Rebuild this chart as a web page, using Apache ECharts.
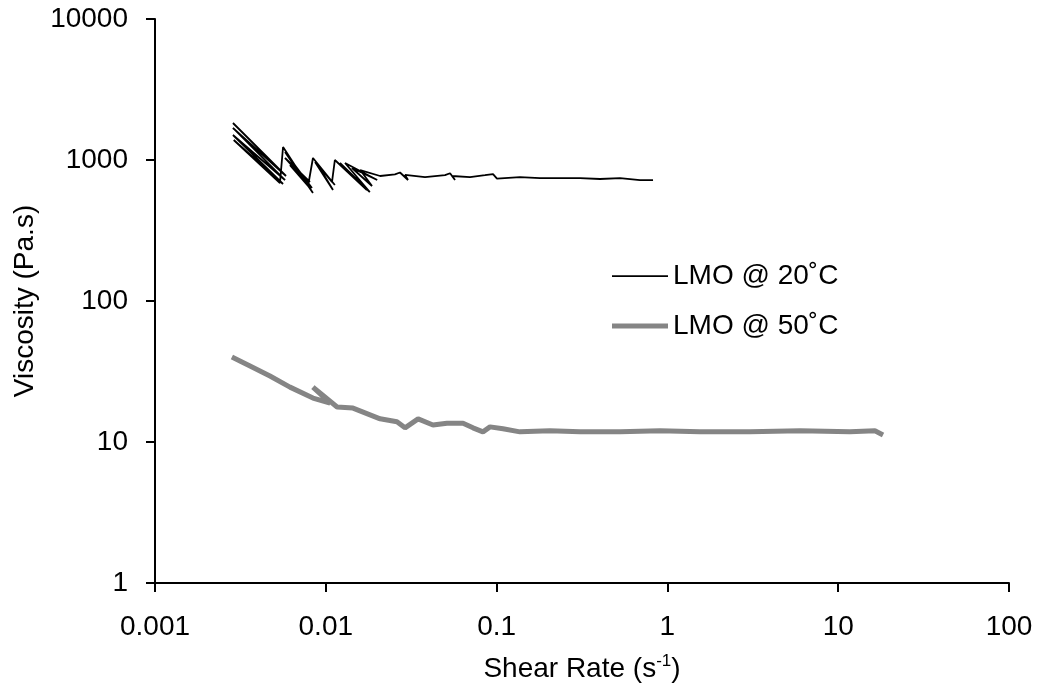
<!DOCTYPE html>
<html>
<head>
<meta charset="utf-8">
<script src="https://cdn.jsdelivr.net/npm/echarts@6/dist/echarts.min.js"></script>
<style>
    html, body { margin: 0; padding: 0; background: #fff; }
    #chartOne { width: 1039px; height: 698px; }
</style>
</head>
<body>
<div id="chartOne"></div>
<script>
// 剪切速率 / 粘度 (20°C)
var shear20 = [0.00286, 0.00585, 0.00286, 0.00577, 0.00286, 0.00562, 0.00289, 0.00539,
    0.00562, 0.00841, 0.00577, 0.00830, 0.00577, 0.00808, 0.00617, 0.00787,
    0.00841, 0.0113, 0.00865, 0.01102, 0.0090, 0.01087,
    0.0113, 0.0174, 0.0121, 0.0181, 0.01296, 0.0200, 0.01423, 0.01865, 0.0159, 0.0208,
    0.0254, 0.0272, 0.0303, 0.0291, 0.0381, 0.0499, 0.0534, 0.0571, 0.0548, 0.0699,
    0.0855, 0.0953, 0.1005, 0.137, 0.1795, 0.308, 0.403, 0.528, 0.691, 0.824];
var visc20 = [1830, 770, 1687, 721, 1504, 676, 1387, 687,
    1237, 583, 1139, 633, 1033, 698, 921, 654,
    1033, 665, 968, 613, 921, 698,
    1000, 613, 952, 593, 952, 721, 878, 654, 849, 770,
    790, 815, 721, 783, 757, 780, 805, 721, 770, 757,
    780, 795, 738, 757, 745, 745, 733, 745, 721, 721];
// 剪切速率 / 粘度 (50°C)
var shear50 = [0.00282, 0.00360, 0.00471, 0.00617, 0.00841, 0.0106, 0.00841, 0.01164,
    0.01443, 0.0208, 0.0261, 0.0291, 0.0347, 0.0424, 0.0512, 0.0636, 0.0727, 0.0832,
    0.0915, 0.109, 0.137, 0.205, 0.308, 0.528, 0.905, 1.55, 3.04, 5.98, 11.7, 16.4, 18.3];
var visc50 = [40.1, 34.6, 29.4, 24.5, 20.5, 18.9, 24.5, 17.7,
    17.4, 14.6, 13.9, 12.6, 14.6, 13.2, 13.6, 13.6, 12.6, 11.8,
    12.8, 12.4, 11.8, 12.0, 11.8, 11.8, 12.0, 11.8, 11.8, 12.0, 11.8, 12.0, 11.2];
var seriesNames = ['LMO @ 20˚C', 'LMO @ 50˚C'];

function pairs(xs, ys) {
    var arr = [];
    for (var i = 0; i < xs.length; i++) {
        arr.push([xs[i], ys[i]]);
    }
    return arr;
}
function fmt(v) {
    return String(+v.toPrecision(6));
}

var fontName = 'Liberation Sans';
var chartOne = echarts.init(document.getElementById('chartOne'));
var optionOne = {
    animation: false,
    textStyle: { fontFamily: fontName, color: '#000' },
    grid: {
        left: 155,
        right: 30,
        top: 19,
        bottom: 115,
        containLabel: false
    },
    legend: {
        orient: 'vertical',
        left: 607,
        top: 257,
        itemWidth: 56,
        itemHeight: 14,
        itemGap: 22,
        data: [
            // 图例只画线段，不画圆点
            { name: seriesNames[0], icon: 'path://M0,0M0,6.3h56v1.8h-56zM56,14' },
            { name: seriesNames[1], icon: 'path://M0,0M0,4.6h56v4.8h-56zM56,14' }
        ],
        textStyle: { fontFamily: fontName, fontSize: 28, color: '#000' }
    },
    xAxis: {
        type: 'log',
        logBase: 10,
        min: 0.001,
        max: 100,
        name: 'Shear Rate (s{sup|-1})',
        nameLocation: 'middle',
        nameGap: 70,
        nameTextStyle: {
            fontFamily: fontName,
            fontSize: 28,
            color: '#000',
            rich: {
                sup: { fontFamily: fontName, fontSize: 17, color: '#000', padding: [0, 0, 16, 0] }
            }
        },
        axisLine: { lineStyle: { color: '#000', width: 2 } },
        axisTick: { inside: false, length: 9, lineStyle: { color: '#000', width: 2 } },
        axisLabel: { margin: 30, fontSize: 28, color: '#000', formatter: fmt },
        splitLine: { show: false },
        minorTick: { show: false }
    },
    yAxis: {
        type: 'log',
        logBase: 10,
        min: 1,
        max: 10000,
        name: 'Viscosity (Pa.s)',
        nameLocation: 'middle',
        nameGap: 116,
        nameTextStyle: { fontFamily: fontName, fontSize: 28, color: '#000' },
        axisLine: { lineStyle: { color: '#000', width: 2 } },
        axisTick: { inside: false, length: 9, lineStyle: { color: '#000', width: 2 } },
        axisLabel: { margin: 27, fontSize: 28, color: '#000', formatter: fmt },
        splitLine: { show: false }
    },
    series: [
        {
            name: seriesNames[0],
            type: 'line',
            symbol: 'none',
            lineStyle: { color: '#000', width: 1.8 },
            itemStyle: { color: '#000' },
            data: pairs(shear20, visc20)
        },
        {
            name: seriesNames[1],
            type: 'line',
            symbol: 'none',
            lineStyle: { color: '#858585', width: 5 },
            itemStyle: { color: '#858585' },
            data: pairs(shear50, visc50)
        }
    ]
};
chartOne.setOption(optionOne);
</script>
</body>
</html>
